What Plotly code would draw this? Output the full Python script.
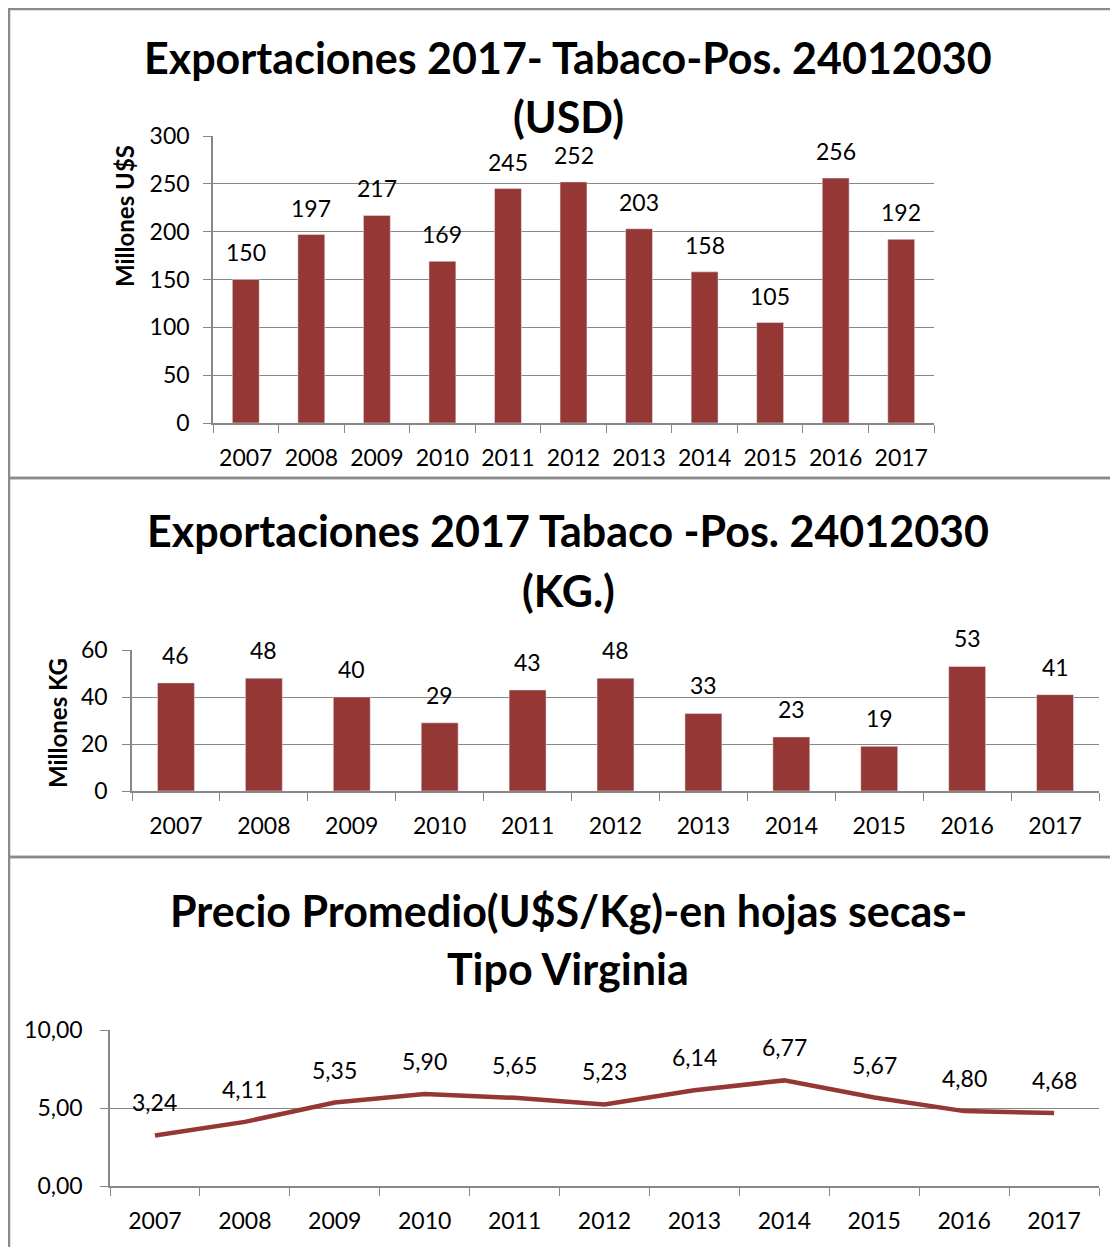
import plotly.graph_objects as go

years = ["2007", "2008", "2009", "2010", "2011", "2012", "2013", "2014", "2015", "2016", "2017"]
usd_values = [150, 197, 217, 169, 245, 252, 203, 158, 105, 256, 192]
kg_values = [46, 48, 40, 29, 43, 48, 33, 23, 19, 53, 41]
price_values = [3.24, 4.11, 5.35, 5.90, 5.65, 5.23, 6.14, 6.77, 5.67, 4.80, 4.68]
usd_ticks = [0, 50, 100, 150, 200, 250, 300]
kg_ticks = [0, 20, 40, 60]
price_ticks = [0, 5, 10]

title1 = ["Exportaciones 2017- Tabaco-Pos. 24012030", "(USD)"]
title2 = ["Exportaciones 2017 Tabaco -Pos. 24012030", "(KG.)"]
title3 = ["Precio Promedio(U$S/Kg)-en hojas secas-", "Tipo Virginia"]

OFF = 8  # page body margin
W, H = 1118 - OFF, 1247 - OFF
FONT = "Lato"
RED = "#953735"
GRID = "#878787"


def px(x):
    return (x - OFF) / W


def py(y):
    return 1 - (y - OFF) / H


fig = go.Figure()

fig.add_trace(go.Bar(x=years, y=usd_values, marker_color=RED, width=0.41,
                     xaxis="x", yaxis="y", showlegend=False))
fig.add_trace(go.Bar(x=years, y=kg_values, marker_color=RED, width=0.42,
                     xaxis="x2", yaxis="y2", showlegend=False))
fig.add_trace(go.Scatter(x=years, y=price_values, mode="lines",
                         line=dict(color=RED, width=4.5),
                         xaxis="x3", yaxis="y3", showlegend=False))

tickfont = dict(family=FONT, size=23, color="black")


def xax(x0, x1, anchor):
    return dict(domain=[px(x0), px(x1)], anchor=anchor, type="category",
                range=[-0.5, len(years) - 0.5], tickangle=0, automargin=False,
                tickson="boundaries", ticks="outside", ticklen=8, tickcolor=GRID,
                showline=True, linecolor=GRID, linewidth=1.5, showgrid=False,
                tickfont=tickfont, ticklabelstandoff=14, fixedrange=True)


def yax(y_top, y_bot, anchor, rng, tickvals, standoff, fmt=None):
    d = dict(domain=[py(y_bot), py(y_top)], anchor=anchor, range=rng, automargin=False,
             tickvals=tickvals, ticks="outside", ticklen=8, tickcolor=GRID,
             showline=True, linecolor=GRID, linewidth=1.5, showgrid=True,
             gridcolor=GRID, gridwidth=1.2, zeroline=False,
             tickfont=tickfont, ticklabelstandoff=standoff, fixedrange=True)
    if fmt:
        d["tickformat"] = fmt
    return d


annotations = []

# titles
for lines, ys in [(title1, [58, 116]), (title2, [530, 590]), (title3, [910, 968])]:
    for text, yy in zip(lines, ys):
        annotations.append(dict(text=text, x=px(568), y=py(yy), xref="paper", yref="paper",
                                xanchor="center", yanchor="middle", showarrow=False,
                                font=dict(family=FONT, size=43, color="black", weight="bold")))

# axis titles
annotations.append(dict(text="Millones U$S", x=px(125), y=py(216), xref="paper", yref="paper",
                        textangle=-90, showarrow=False, xanchor="center", yanchor="middle",
                        font=dict(family=FONT, size=24, color="black", weight="bold")))
annotations.append(dict(text="Millones KG", x=px(57), y=py(723), xref="paper", yref="paper",
                        textangle=-90, showarrow=False, xanchor="center", yanchor="middle",
                        font=dict(family=FONT, size=24, color="black", weight="bold")))

lblfont = dict(family=FONT, size=23, color="black")
for i, v in enumerate(usd_values):
    annotations.append(dict(text=str(v), x=i, y=v, xref="x", yref="y", showarrow=False,
                            yanchor="middle", yshift=27, font=lblfont))
for i, v in enumerate(kg_values):
    annotations.append(dict(text=str(v), x=i, y=v, xref="x2", yref="y2", showarrow=False,
                            yanchor="middle", yshift=28, font=lblfont))
for i, v in enumerate(price_values):
    annotations.append(dict(text=f"{v:.2f}".replace(".", ","), x=i, y=v, xref="x3", yref="y3",
                            showarrow=False, yanchor="middle", yshift=33, font=lblfont))

# panel borders
shapes = []
for y0, y1 in [(9, 478), (478, 857), (857, 1260)]:
    shapes.append(dict(type="rect", xref="paper", yref="paper",
                       x0=px(9), x1=px(1135), y0=py(y1), y1=py(y0),
                       line=dict(color="#8a8a8a", width=2.5), fillcolor="rgba(0,0,0,0)"))

fig.update_layout(
    width=W, height=H,
    margin=dict(l=0, r=0, t=0, b=0, autoexpand=False),
    paper_bgcolor="white", plot_bgcolor="white",
    separators=",.",
    font=dict(family=FONT, color="black"),
    xaxis=xax(213, 934, "y"),
    yaxis=yax(136, 423, "x", [0, 300], usd_ticks, 9),
    xaxis2=xax(132, 1099, "y2"),
    yaxis2=yax(650, 791, "x2", [0, 60], kg_ticks, 10),
    xaxis3=xax(110, 1099, "y3"),
    yaxis3=yax(1030, 1186, "x3", [0, 10], price_ticks, 13, ".2f"),
    annotations=annotations,
    shapes=shapes,
)

fig.write_html("out.html", config={"displayModeBar": False})
